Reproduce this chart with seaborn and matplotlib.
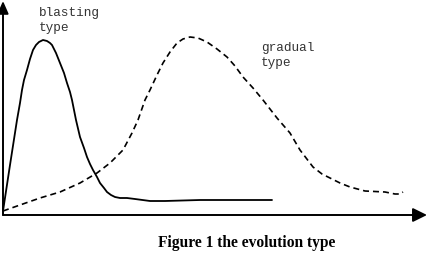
import matplotlib
matplotlib.use("Agg")
import matplotlib.pyplot as plt
import seaborn as sns
import pandas as pd

# Curve readings: time (x) and intensity (y), in arbitrary units
blast_t = [0, 7, 14, 17, 19, 21, 24, 27, 30, 33, 36, 40, 44, 47, 49, 53, 57, 61, 64, 67, 69, 71, 73, 77, 81,
           84, 87, 90, 94, 97, 101, 104, 108, 112, 117, 124, 132, 147, 162, 197, 269]
blast_v = [4, 50, 95, 112, 125, 135, 145, 156, 165, 170, 173, 175, 174, 172, 170, 162, 152, 142, 132, 123, 115,
           105, 95, 78, 67, 58, 51, 45, 38, 32, 27, 23, 20, 18, 17, 17, 16, 14, 14, 15, 15]

grad_t = [0, 17, 37, 57, 77, 94, 107, 120, 129, 135, 142, 147, 154, 160, 167, 174, 180, 187, 195, 204, 214, 224, 232, 240, 250, 260,
          274, 287, 297, 310, 319, 327, 337, 347, 362, 382, 392, 397, 400]
grad_v = [4, 10, 17, 23, 32, 42, 52, 65, 82, 95, 115, 125, 140, 152, 163, 172, 176, 178, 177, 173, 166, 158, 149, 138, 127, 115,
          97, 82, 65, 48, 41, 37, 32, 28, 24, 23, 21, 21, 23]

labels = ["blasting\ntype", "gradual\ntype"]
caption = "Figure 1 the evolution type"

sns.set_theme(style="white")
plt.rcParams["font.family"] = ["DejaVu Sans"]

fig = plt.figure(figsize=(4.3, 2.54), dpi=100)
W, H = 430, 254
ax = fig.add_axes([3 / W, (H - 215) / H, (427 - 3) / W, (215 - 1) / H])
ax.set_xlim(0, 424)
ax.set_ylim(0, 214)

df_b = pd.DataFrame({"t": blast_t, "v": blast_v})
df_g = pd.DataFrame({"t": grad_t, "v": grad_v})
sns.lineplot(data=df_b, x="t", y="v", sort=False, color="black", lw=1.3, ax=ax, clip_on=False)
sns.lineplot(data=df_g, x="t", y="v", sort=False, color="black", lw=1.2, ax=ax, clip_on=False)
ax.lines[0].set_solid_joinstyle("round")
ax.lines[-1].set_dashes((3.6, 2.4))

for s in ax.spines.values():
    s.set_visible(False)
ax.set_xticks([])
ax.set_yticks([])
ax.set_xlabel("")
ax.set_ylabel("")
ax.patch.set_alpha(0)

# axis arrows
ax.annotate("", xy=(1, 0), xytext=(0, 0), xycoords="axes fraction",
            arrowprops=dict(arrowstyle="-|>,head_length=0.85,head_width=0.42", color="black", lw=1.4,
                            mutation_scale=10, shrinkA=0, shrinkB=0))
ax.annotate("", xy=(0, 1), xytext=(0, 0), xycoords="axes fraction",
            arrowprops=dict(arrowstyle="-|>,head_length=0.75,head_width=0.33", color="black", lw=1.4,
                            mutation_scale=10, shrinkA=0, shrinkB=0))

ax.text(36, 208, labels[0], family="Liberation Mono", fontsize=9.2, color="#333333",
        va="top", ha="left", linespacing=1.35)
ax.text(258, 173, labels[1], family="Liberation Mono", fontsize=9.2, color="#333333",
        va="top", ha="left", linespacing=1.35)

fig.text(247 / W, 1 - 247 / H, caption, family="Liberation Serif", fontweight="bold",
         fontsize=11.2, ha="center", va="baseline", color="black")

fig.savefig("out.png", dpi=100, facecolor="white")
